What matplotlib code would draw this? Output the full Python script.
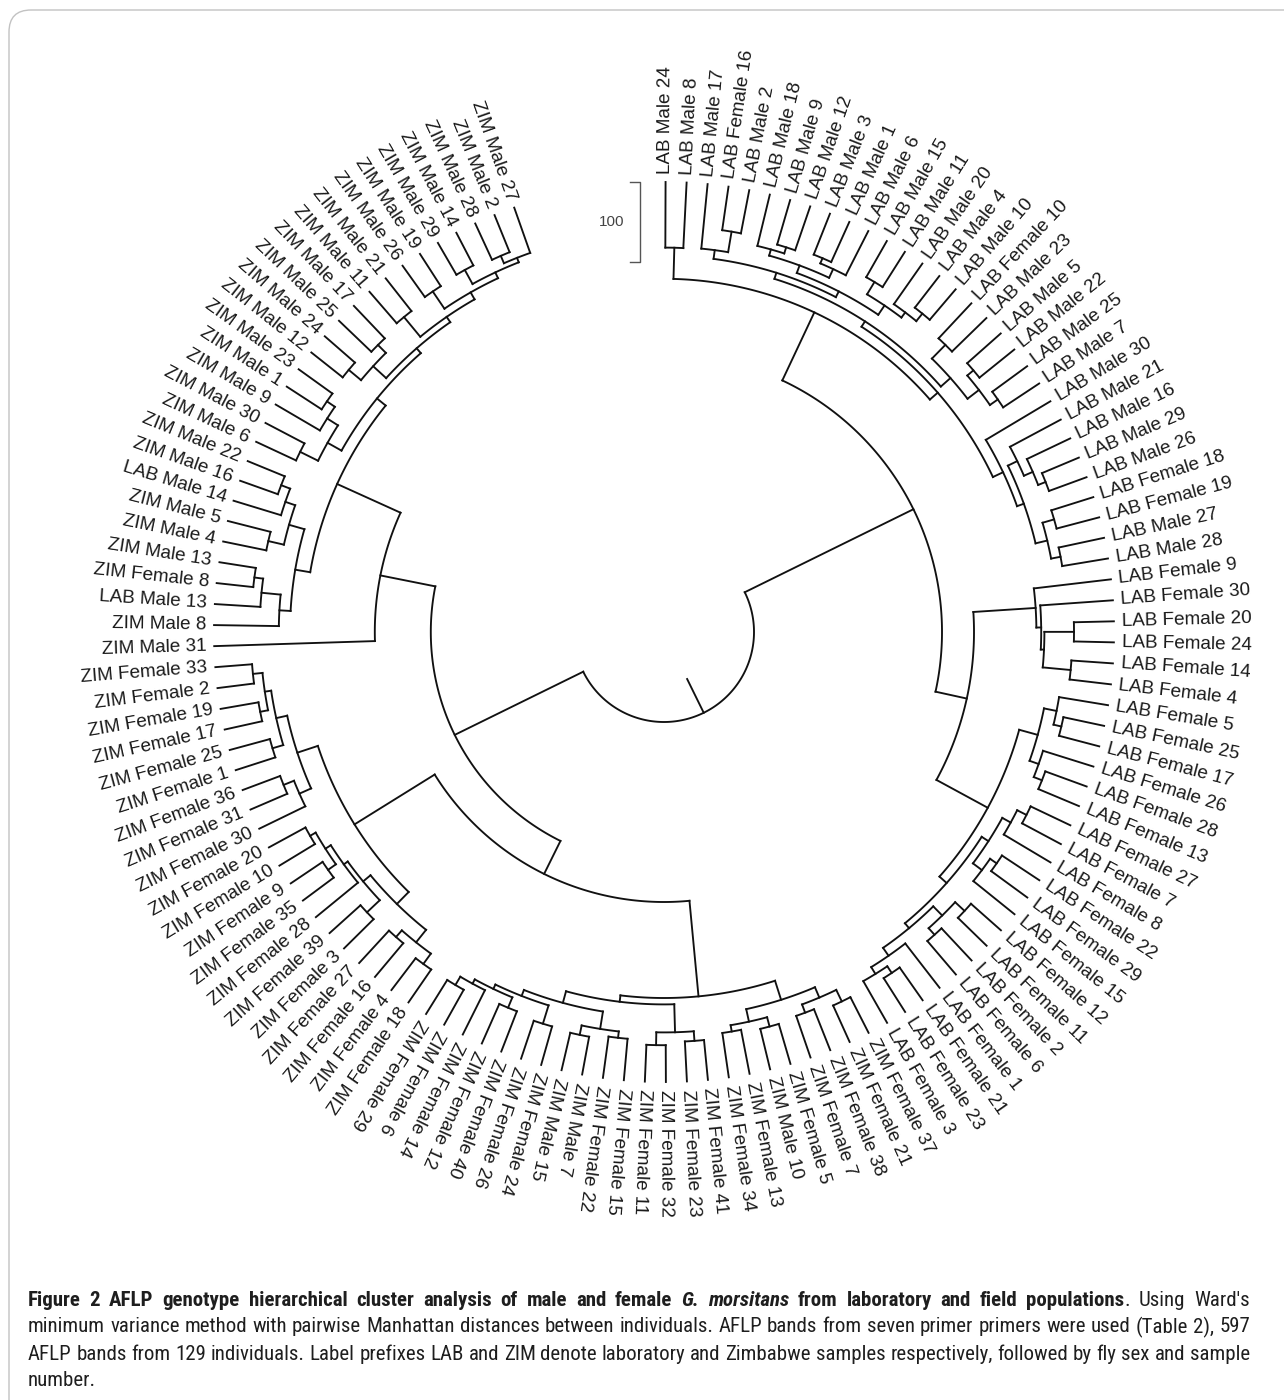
import re
import numpy as np
import matplotlib
matplotlib.use("Agg")
import matplotlib.pyplot as plt
from matplotlib.collections import LineCollection
from matplotlib.patches import FancyBboxPatch
from matplotlib import font_manager

# ---------------- data ----------------
labels = [
    "LAB Male 24", "LAB Male 8", "LAB Male 17", "LAB Female 16", "LAB Male 2", "LAB Male 18",
    "LAB Male 9", "LAB Male 12", "LAB Male 3", "LAB Male 1", "LAB Male 6", "LAB Male 15",
    "LAB Male 11", "LAB Male 20", "LAB Male 4", "LAB Male 10", "LAB Female 10", "LAB Male 23",
    "LAB Male 5", "LAB Male 22", "LAB Male 25", "LAB Male 7", "LAB Male 30", "LAB Male 21",
    "LAB Male 16", "LAB Male 29", "LAB Male 26", "LAB Female 18", "LAB Female 19", "LAB Male 27",
    "LAB Male 28", "LAB Female 9", "LAB Female 30", "LAB Female 20", "LAB Female 24",
    "LAB Female 14", "LAB Female 4", "LAB Female 5", "LAB Female 25", "LAB Female 17",
    "LAB Female 26", "LAB Female 28", "LAB Female 13", "LAB Female 27", "LAB Female 7",
    "LAB Female 8", "LAB Female 22", "LAB Female 29", "LAB Female 15", "LAB Female 12",
    "LAB Female 11", "LAB Female 2", "LAB Female 6", "LAB Female 1", "LAB Female 21",
    "LAB Female 23", "LAB Female 3", "ZIM Female 37", "ZIM Female 21", "ZIM Female 38",
    "ZIM Female 7", "ZIM Female 5", "ZIM Male 10", "ZIM Female 13", "ZIM Female 34",
    "ZIM Female 41", "ZIM Female 23", "ZIM Female 32", "ZIM Female 11", "ZIM Female 15",
    "ZIM Female 22", "ZIM Male 7", "ZIM Male 15", "ZIM Female 24", "ZIM Female 26",
    "ZIM Female 40", "ZIM Female 12", "ZIM Female 14", "ZIM Female 6", "ZIM Female 29",
    "ZIM Female 18", "ZIM Female 4", "ZIM Female 16", "ZIM Female 27", "ZIM Female 3",
    "ZIM Female 39", "ZIM Female 28", "ZIM Female 35", "ZIM Female 9", "ZIM Female 10",
    "ZIM Female 20", "ZIM Female 30", "ZIM Female 31", "ZIM Female 36", "ZIM Female 1",
    "ZIM Female 25", "ZIM Female 17", "ZIM Female 19", "ZIM Female 2", "ZIM Female 33",
    "ZIM Male 31", "ZIM Male 8", "LAB Male 13", "ZIM Female 8", "ZIM Male 13", "ZIM Male 4",
    "ZIM Male 5", "LAB Male 14", "ZIM Male 16", "ZIM Male 22", "ZIM Male 6", "ZIM Male 30",
    "ZIM Male 9", "ZIM Male 1", "ZIM Male 23", "ZIM Male 12", "ZIM Male 24", "ZIM Male 25",
    "ZIM Male 17", "ZIM Male 11", "ZIM Male 21", "ZIM Male 26", "ZIM Male 19", "ZIM Male 29",
    "ZIM Male 14", "ZIM Male 28", "ZIM Male 2", "ZIM Male 27",
]

# clusters as nested (child,child):height -- leaves are indices into labels,
# heights in the dendrogram's distance units (scale bar = 100)
LAB_MALE_X1A = "((2,(3,4):55):81,(((5,(6,7):58):66,((8,9):55,10):62):74,((11,12):52,(13,(14,15):50):62):70):84):92"
LAB_MALE_X1B = "((16,17):60,((18,19):56,(20,21):54):66):84"
LAB_MALE_X2 = "(22,((23,(24,(25,26):50):60):72,((27,28):55,(29,30):58):70):85):94"
LAB_MALES = f"((0,1):82,(({LAB_MALE_X1A},{LAB_MALE_X1B}):100,{LAB_MALE_X2}):108):121"
LAB_FEM_A = "(31,(32,((33,34):50,(35,36):52):87):91):97"
LAB_FEM_B1 = "((37,(38,39):52):62,(40,(41,42):55):66):78"
LAB_FEM_B2 = "((((43,44):55,45):68,((46,47):56,48):66):80,(((49,50):50,(51,52):55):66,(53,((54,55):50,56):60):70):82):90"
LAB_FEMALES = f"({LAB_FEM_A},({LAB_FEM_B1},{LAB_FEM_B2}):102):175"
ZIM_M_LOW = "((101,(102,(103,104):46):57):81,((105,106):55,(107,(108,109):50):62):75):95"
ZIM_M_UP = "(((110,111):55,(112,(113,114):52):64):80,(((115,116):50,(117,118):56):70,((119,120):52,((121,122):48,((123,124):46,((125,126):50,127):60):66):74):84):92):100"
ZIM_MALES = f"(100,({ZIM_M_LOW},{ZIM_M_UP}):114):201"
ZIM_FEM_A2 = "(((80,81):50,(82,83):55):66,((84,85):52,(86,((87,88):48,(89,90):52):60):68):74):86"
ZIM_FEM_A1 = "((91,(92,93):50):64,((94,95):52,((96,97):48,(98,99):46):58):66):80"
ZIM_FEM_B = "((((57,58):50,(59,60):55):66,((61,62):52,(63,64):56):64):80,(((65,66):50,(67,68):46):62,(((69,70):52,(71,72):48):60,((73,74):50,((75,76):54,(77,(78,79):50):62):68):74):82):97):105"
ZIM_FEMALES = f"({ZIM_FEM_B},({ZIM_FEM_A2},{ZIM_FEM_A1}):107):225"
TREE = f"(({LAB_MALES},{LAB_FEMALES}):215,({ZIM_MALES},{ZIM_FEMALES}):271):450"
ROOT_EDGE = 47
SCALE_LEN = 100

caption_lines = [
    [[("Figure", "b")], [("2", "b")], [("AFLP", "b")], [("genotype", "b")], [("hierarchical", "b")],
     [("cluster", "b")], [("analysis", "b")], [("of", "b")], [("male", "b")], [("and", "b")],
     [("female", "b")], [("G.", "bi")], [("morsitans", "bi")], [("from", "b")], [("laboratory", "b")],
     [("and", "b")], [("field", "b")], [("populations", "b"), (".", "r")], [("Using", "r")], [("Ward's", "r")]],
    [[(w, "r")] for w in "minimum variance method with pairwise Manhattan distances between individuals. AFLP bands from seven primer primers were used (Table 2), 597".split()],
    [[(w, "r")] for w in "AFLP bands from 129 individuals. Label prefixes LAB and ZIM denote laboratory and Zimbabwe samples respectively, followed by fly sex and sample".split()],
    [[(w, "r")] for w in "number.".split()],
]

# ---------------- layout ----------------
W, H = 1284, 1400
PX = 0.8                 # pixels per distance unit
CX, CY = 664, 632        # centre of the fan in pixels (from top-left)
R_TIP = 450 / PX         # radius of the tips in units
A0 = 89.8                # angle of first tip (deg)
STEP = 2.68              # angular step between tips (deg)
FLIP_FROM = 80           # tips from this index on are written reading inwards
LABEL_GAP = 10

fig = plt.figure(figsize=(W / 100, H / 100), dpi=100)
ax = fig.add_axes([0, 0, 1, 1])
ax.set_xlim(-CX / PX, (W - CX) / PX)
ax.set_ylim(-(H - CY) / PX, CY / PX)
ax.axis("off")


def parse(s):
    s = re.sub(r"\s+", "", s)
    pos = 0

    def node():
        nonlocal pos
        if s[pos] == "(":
            pos += 1
            kids = [node()]
            while s[pos] == ",":
                pos += 1
                kids.append(node())
            pos += 2  # '):'
            m = re.match(r"[0-9.]+", s[pos:])
            pos += len(m.group())
            return {"kids": kids, "h": float(m.group())}
        m = re.match(r"\d+", s[pos:])
        pos += len(m.group())
        return {"leaf": int(m.group()), "h": 0.0}

    return node()


tree = parse(TREE)
segs = []


def pol(r, a):
    t = np.deg2rad(a)
    return r * np.cos(t), r * np.sin(t)


def layout(nd):
    if "leaf" in nd:
        nd["a"] = A0 - STEP * nd["leaf"]
        return
    for k in nd["kids"]:
        layout(k)
    nd["a"] = np.mean([k["a"] for k in nd["kids"]])


def draw(nd):
    if "leaf" in nd:
        return
    r = R_TIP - nd["h"]
    angs = [k["a"] for k in nd["kids"]]
    a1, a2 = min(angs), max(angs)
    t = np.linspace(a1, a2, max(4, int((a2 - a1) * 3)))
    xs, ys = pol(r, t)
    segs.append(np.column_stack([xs, ys]))
    for k in nd["kids"]:
        rk = R_TIP - k["h"]
        segs.append(np.array([pol(r, k["a"]), pol(rk, k["a"])]))
        draw(k)


layout(tree)
draw(tree)
r_root = R_TIP - tree["h"]
segs.append(np.array([pol(r_root, tree["a"]), pol(r_root - ROOT_EDGE, tree["a"])]))
ax.add_collection(LineCollection(segs, colors="#111111", linewidths=1.35,
                                 capstyle="projecting", joinstyle="miter"))

# tip labels
for i, lab in enumerate(labels):
    a = A0 - STEP * i
    x, y = pol(R_TIP + LABEL_GAP, a)
    if i >= FLIP_FROM:
        rot, ha = a - 180, "right"
    else:
        rot, ha = a, "left"
    rot = (rot + 180) % 360 - 180
    ax.text(x, y, lab, rotation=rot, rotation_mode="anchor", ha=ha, va="center",
            fontsize=13.6, family="Liberation Sans", color="#1a1a1a")

# scale bar
sx = -30
ax.plot([sx - 12.5, sx, sx, sx - 12.5], [R_TIP, R_TIP, R_TIP - SCALE_LEN, R_TIP - SCALE_LEN],
        color="#555555", lw=1.0)
ax.text(sx - 20, R_TIP - SCALE_LEN / 2, f"{SCALE_LEN}", ha="right", va="center",
        fontsize=11, family="Liberation Sans", color="#444444")

# ---------------- frame + caption (pixel overlay) ----------------
ov = fig.add_axes([0, 0, 1, 1], facecolor="none")
ov.set_xlim(0, W)
ov.set_ylim(H, 0)
ov.axis("off")
ov.add_patch(FancyBboxPatch((9, 10), 1320, 1440, boxstyle="round,pad=0,rounding_size=22",
                            fc="none", ec="#c2c2c2", lw=1.0))

# pick a narrow face for the caption if one is installed
entries = font_manager.fontManager.ttflist
cap_family, cap_stretch = "DejaVu Sans", "normal"
for nm in ["Liberation Sans Narrow", "Roboto Condensed", "Open Sans Condensed", "DejaVu Sans Condensed"]:
    if any(f.name == nm for f in entries):
        cap_family = nm
        break
else:
    if any(f.name == "DejaVu Sans" and "condensed" in str(f.stretch) for f in entries):
        cap_stretch = "condensed"

styles = {"b": dict(weight="bold", style="normal"), "bi": dict(weight="bold", style="italic"),
          "r": dict(weight="normal", style="normal")}
renderer = fig.canvas.get_renderer()


def width_of(txt, st, size):
    t = ov.text(0, 0, txt, fontsize=size, family=cap_family, stretch=cap_stretch, **styles[st])
    bb = t.get_window_extent(renderer)
    t.remove()
    return bb.width


X0, X1 = 28, 1250
# choose a size so the first (bold) line fills the measure with ordinary spaces
probe = " ".join(p for w in caption_lines[0] for p, _ in w)
wp = width_of(probe, "b", 12)
cap_size = min(15.0, 12 * 0.985 * (X1 - X0) / wp)
ys = [1300, 1327, 1354, 1380]
for li, words in enumerate(caption_lines):
    wlens = [[width_of(p, st, cap_size) for p, st in w] for w in words]
    tot = sum(sum(w) for w in wlens)
    space = width_of("a a", "r", cap_size) - 2 * width_of("a", "r", cap_size)
    if li < len(caption_lines) - 1 and len(words) > 1:
        gap = (X1 - X0 - tot) / (len(words) - 1)
    else:
        gap = space
    x = X0
    for w, wl in zip(words, wlens):
        for (p, st), pl in zip(w, wl):
            ov.text(x, ys[li], p, fontsize=cap_size, family=cap_family, stretch=cap_stretch,
                    ha="left", va="center", color="#1e1e1e", **styles[st])
            x += pl
        x += gap

fig.savefig("out.png", dpi=100)
